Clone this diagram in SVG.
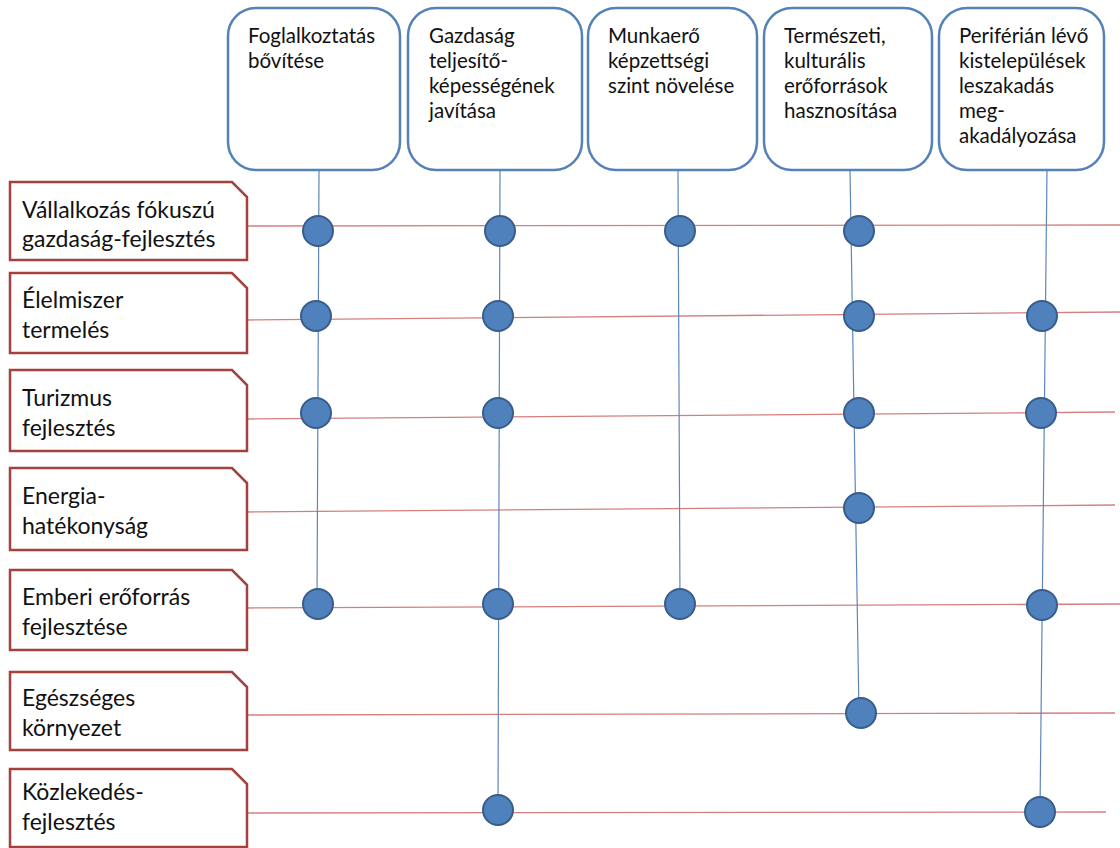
<svg xmlns="http://www.w3.org/2000/svg" width="1120" height="848" viewBox="0 0 1120 848">
<style>
.top{fill:#fff;stroke:#5580B8;stroke-width:2.5}
.left{fill:#fff;stroke:#A4403E;stroke-width:2.5}
.tt{font-family:Lato,"Open Sans",sans-serif;font-size:20.5px;fill:#111}
.lt{font-family:Lato,"Open Sans",sans-serif;font-size:23px;fill:#111}
.h{stroke:#D47F7D;stroke-width:1.3;fill:none}
.v{stroke:#5E86BC;stroke-width:1.2;fill:none}
.dot{fill:#4F81BD;stroke:#385D8A;stroke-width:2}
</style>
<rect width="1120" height="848" fill="#fff"/>
<g id="connectors">
<line class="h" x1="247" y1="226" x2="1120" y2="225"/>
<line class="h" x1="247" y1="320" x2="1120" y2="312"/>
<line class="h" x1="247" y1="419" x2="1115" y2="412"/>
<line class="h" x1="247" y1="512" x2="1115" y2="505"/>
<line class="h" x1="247" y1="608" x2="1120" y2="604"/>
<line class="h" x1="247" y1="715" x2="1115" y2="713"/>
<line class="h" x1="247" y1="813" x2="1106" y2="812"/>
<line class="v" x1="319" y1="170" x2="317" y2="604"/>
<line class="v" x1="500" y1="170" x2="498" y2="810"/>
<line class="v" x1="678" y1="170" x2="680" y2="604"/>
<line class="v" x1="850" y1="170" x2="859" y2="713"/>
<line class="v" x1="1047" y1="170" x2="1040" y2="810"/>
</g>
<g id="top1"><rect class="top" x="228" y="8" width="172" height="162" rx="28"/><text class="tt"><tspan x="248" y="43">Foglalkoztatás</tspan><tspan x="248" y="68">bővítése</tspan></text></g>
<g id="top2"><rect class="top" x="408" y="8" width="174" height="162" rx="28"/><text class="tt"><tspan x="429" y="43">Gazdaság</tspan><tspan x="429" y="68">teljesítő-</tspan><tspan x="429" y="93">képességének</tspan><tspan x="429" y="118">javítása</tspan></text></g>
<g id="top3"><rect class="top" x="588" y="8" width="169" height="162" rx="28"/><text class="tt"><tspan x="608" y="43">Munkaerő</tspan><tspan x="608" y="68">képzettségi</tspan><tspan x="608" y="93">szint növelése</tspan></text></g>
<g id="top4"><rect class="top" x="764" y="8" width="168" height="162" rx="28"/><text class="tt"><tspan x="784" y="43">Természeti,</tspan><tspan x="784" y="68">kulturális</tspan><tspan x="784" y="93">erőforrások</tspan><tspan x="784" y="118">hasznosítása</tspan></text></g>
<g id="top5"><rect class="top" x="939" y="8" width="165" height="162" rx="28"/><text class="tt"><tspan x="959" y="43">Periférián lévő</tspan><tspan x="959" y="68">kistelepülések</tspan><tspan x="959" y="93">leszakadás</tspan><tspan x="959" y="118">meg-</tspan><tspan x="959" y="143">akadályozása</tspan></text></g>
<g id="row1"><path class="left" d="M10,182 H232 L247,197 V260 H10 Z"/><text class="lt"><tspan x="22" y="218">Vállalkozás fókuszú</tspan><tspan x="22" y="247">gazdaság-fejlesztés</tspan></text></g>
<g id="row2"><path class="left" d="M10,273 H232 L247,288 V353 H10 Z"/><text class="lt"><tspan x="22" y="308">Élelmiszer</tspan><tspan x="22" y="338">termelés</tspan></text></g>
<g id="row3"><path class="left" d="M10,370 H232 L247,385 V451 H10 Z"/><text class="lt"><tspan x="22" y="406">Turizmus</tspan><tspan x="22" y="436">fejlesztés</tspan></text></g>
<g id="row4"><path class="left" d="M10,468 H232 L247,483 V550 H10 Z"/><text class="lt"><tspan x="22" y="504">Energia-</tspan><tspan x="22" y="534">hatékonyság</tspan></text></g>
<g id="row5"><path class="left" d="M10,570 H232 L247,585 V650 H10 Z"/><text class="lt"><tspan x="22" y="605">Emberi erőforrás</tspan><tspan x="22" y="635">fejlesztése</tspan></text></g>
<g id="row6"><path class="left" d="M10,672 H232 L247,687 V750 H10 Z"/><text class="lt"><tspan x="22" y="706">Egészséges</tspan><tspan x="22" y="736">környezet</tspan></text></g>
<g id="row7"><path class="left" d="M10,769 H232 L247,784 V847 H10 Z"/><text class="lt"><tspan x="22" y="800">Közlekedés-</tspan><tspan x="22" y="830">fejlesztés</tspan></text></g>
<g id="dots">
<circle class="dot" cx="318" cy="231" r="15"/><circle class="dot" cx="500" cy="231" r="15"/><circle class="dot" cx="680" cy="231" r="15"/><circle class="dot" cx="859" cy="231" r="15"/>
<circle class="dot" cx="316" cy="316" r="15"/><circle class="dot" cx="498" cy="316" r="15"/><circle class="dot" cx="859" cy="316" r="15"/><circle class="dot" cx="1042" cy="316" r="15"/>
<circle class="dot" cx="316" cy="413" r="15"/><circle class="dot" cx="498" cy="413" r="15"/><circle class="dot" cx="859" cy="413" r="15"/><circle class="dot" cx="1041" cy="413" r="15"/>
<circle class="dot" cx="859" cy="508" r="15"/>
<circle class="dot" cx="318" cy="604" r="15"/><circle class="dot" cx="498" cy="604" r="15"/><circle class="dot" cx="680" cy="604" r="15"/><circle class="dot" cx="1042" cy="605" r="15"/>
<circle class="dot" cx="861" cy="713" r="15"/>
<circle class="dot" cx="498" cy="810" r="15"/><circle class="dot" cx="1040" cy="812" r="15"/>
</g>
</svg>
